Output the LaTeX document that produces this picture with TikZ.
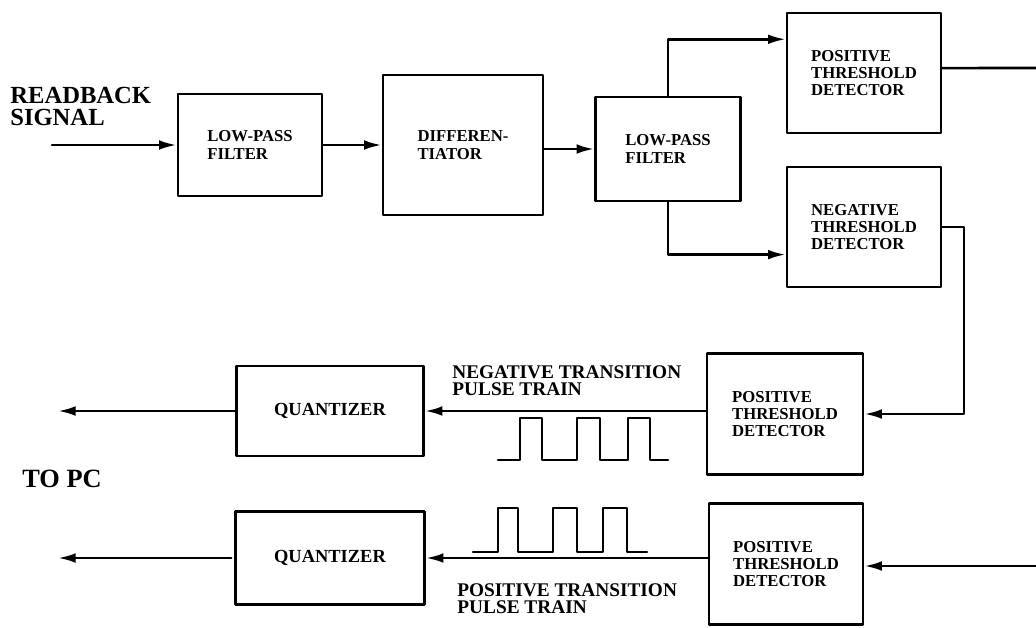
\documentclass[tikz,border=0pt]{standalone}
\usepackage{fontspec}
\setmainfont{Liberation Serif}
\usetikzlibrary{arrows.meta,calc}
\tikzset{
  blk/.style 2 args={draw,line width=1.5pt,minimum width=#1*0.02cm,minimum height=#2*0.02cm,
    inner sep=0pt,align=left,font=\bfseries\fontsize{9.5}{9.8}\selectfont},
  lbl/.style={inner sep=0pt,align=left,font=\bfseries\fontsize{11}{9.6}\selectfont},
  wire/.style={line width=1.5pt},
  sig/.style={wire,-{Latex[length=10pt,width=5.5pt]}},
}
\begin{document}
\begin{tikzpicture}[x=0.02cm,y=-0.02cm,line cap=round,line join=round]
  \useasboundingbox (0,0) rectangle (1036,627);

  % Top row: filters and differentiator.
  \node[blk={144}{102}] (lpfa) at (250,145) {LOW-PASS\\FILTER};
  \node[blk={160}{140}] (diff) at (463,145) {DIFFEREN-\\TIATOR};
  \node[blk={145}{104}] (lpfb) at (668,149) {LOW-PASS\\FILTER};
  \node[blk={154}{120}] (ptda) at (864,73) {POSITIVE\\THRESHOLD\\DETECTOR};
  \node[blk={154}{120}] (ntd) at (864,227) {NEGATIVE\\THRESHOLD\\DETECTOR};

  % Bottom rows: detectors and quantizers.
  \node[blk={156}{121}] (ptdb) at (785,414) {POSITIVE\\THRESHOLD\\DETECTOR};
  \node[blk={154}{121}] (ptdc) at (786,564) {POSITIVE\\THRESHOLD\\DETECTOR};
  \node[blk={187}{90},font=\bfseries\fontsize{10.5}{10.5}\selectfont] (quanta) at (330,411) {QUANTIZER};
  \node[blk={189}{93},font=\bfseries\fontsize{10.5}{10.5}\selectfont] (quantb) at (330,558) {QUANTIZER};

  % Labels.
  \node[lbl,font=\bfseries\fontsize{14}{12.5}\selectfont,anchor=north west] (rbs) at (10,87) {READBACK\\SIGNAL};
  \node[lbl,font=\bfseries\fontsize{15}{15}\selectfont,anchor=west] (topc) at (22,479) {TO PC};
  \node[lbl,anchor=north west] (negp) at (452,365) {NEGATIVE TRANSITION\\PULSE TRAIN};
  \node[lbl,anchor=north west] (posp) at (457,583) {POSITIVE TRANSITION\\PULSE TRAIN};

  % Free ends.
  \coordinate (in) at (52,145);
  \coordinate (outr) at (1036,68);
  \coordinate (inr) at (1036,566);
  \coordinate (turn) at (964,320);
  \coordinate (outa) at (58,411);
  \coordinate (outb) at (58,558);

  % Signal path.
  \draw[sig] (in) -- (lpfa);
  \draw[sig] (lpfa) -- (diff);
  \draw[sig] (lpfb.west -| diff.east) -- (lpfb.west);
  \draw[sig] (lpfb.north) |- ($(ptda.north west)!.225!(ptda.south west)$);
  \draw[sig] (lpfb.south) |- ($(ntd.north west)!.725!(ntd.south west)$);
  \draw[wire] ($(ptda.north east)!.46!(ptda.south east)$) -- (outr);
  \draw[sig] (ntd.east) -| (turn) |- (ptdb.east);
  \draw[sig] (inr) -- (inr -| ptdc.east);
  \draw[sig] (quanta.east -| ptdb.west) -- (quanta.east);
  \draw[sig] (quantb.east -| ptdc.west) -- (quantb.east);
  \draw[sig] (quanta.west) -- (outa);
  \draw[sig] ([xshift=-0.06cm]quantb.west) -- (outb |- quantb.west);

  % Pulse trains.
  \draw[wire] (498,460) -- (520,460) -- (520,418) -- (542,418) -- (542,460) -- (577,460)
    -- (577,418) -- (600,418) -- (600,460) -- (628,460) -- (628,418) -- (650,418)
    -- (650,460) -- (668,460);
  \draw[wire] (473,552) -- (498,552) -- (498,508) -- (518,508) -- (518,552) -- (553,552)
    -- (553,508) -- (577,508) -- (577,552) -- (603,552) -- (603,508) -- (627,508)
    -- (627,552) -- (647,552);
\end{tikzpicture}
\end{document}
